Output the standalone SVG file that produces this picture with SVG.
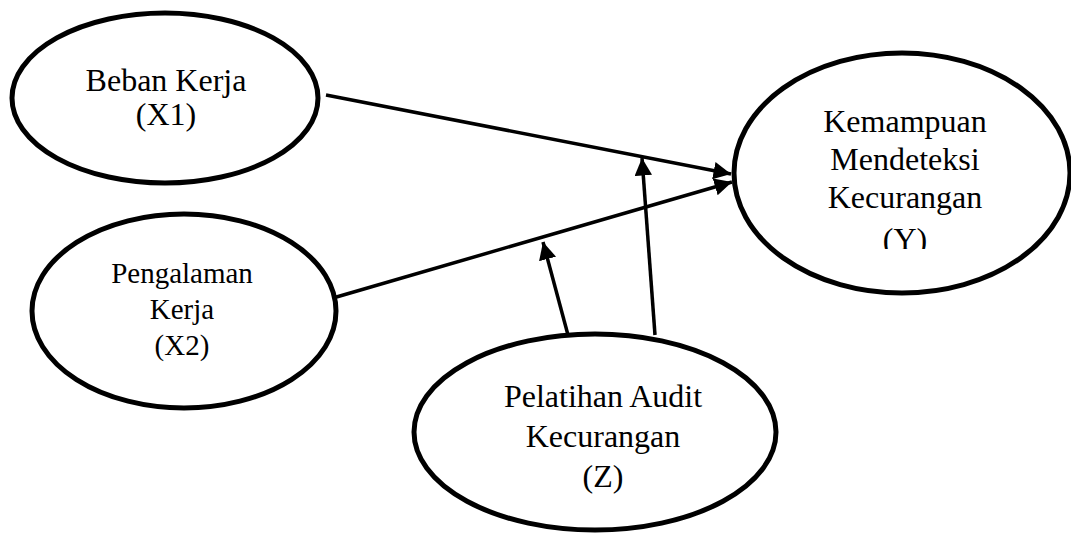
<svg xmlns="http://www.w3.org/2000/svg" width="1071" height="534" viewBox="0 0 1071 534">
<style>
.node ellipse{fill:#fff;stroke:#000;stroke-width:5}
.lbl{font-family:"Liberation Serif","Times New Roman",serif;font-size:32px;fill:#000;text-anchor:middle}
.edge{stroke:#000;stroke-width:3.5;fill:none;marker-end:url(#ah)}
</style>
<defs>
<marker id="ah" viewBox="0 0 10 10" refX="10" refY="5" markerWidth="5" markerHeight="5" markerUnits="strokeWidth" orient="auto">
<path d="M0,0 L10,5 L0,10 z" fill="#000"/>
</marker>
<clipPath id="clipY"><rect x="700" y="40" width="371" height="209"/></clipPath>
</defs>
<g id="connectors">
<line class="edge" x1="326" y1="95" x2="731" y2="174"/>
<line class="edge" x1="333" y1="298" x2="732" y2="182"/>
<line class="edge" x1="568" y1="335" x2="543" y2="242"/>
<line class="edge" x1="655" y1="335" x2="642" y2="158"/>
</g>
<g id="X1" class="node">
<ellipse cx="165" cy="98" rx="153" ry="85"/>
<text class="lbl" x="166" y="91">Beban Kerja</text>
<text class="lbl" x="166" y="125">(X1)</text>
</g>
<g id="X2" class="node">
<ellipse cx="184" cy="311" rx="152" ry="97"/>
<text class="lbl" x="182" y="283" style="font-size:29px">Pengalaman</text>
<text class="lbl" x="182" y="319" style="font-size:29px">Kerja</text>
<text class="lbl" x="182" y="355" style="font-size:29px">(X2)</text>
</g>
<g id="Y" class="node">
<ellipse cx="902" cy="173" rx="168" ry="120"/>
<g clip-path="url(#clipY)">
<text class="lbl" x="905" y="132">Kemampuan</text>
<text class="lbl" x="905" y="170">Mendeteksi</text>
<text class="lbl" x="905" y="208">Kecurangan</text>
<text class="lbl" x="905" y="250">(Y)</text>
</g>
</g>
<g id="Z" class="node">
<ellipse cx="595" cy="432" rx="181" ry="98"/>
<text class="lbl" x="603" y="407">Pelatihan Audit</text>
<text class="lbl" x="603" y="447">Kecurangan</text>
<text class="lbl" x="603" y="487">(Z)</text>
</g>
</svg>
